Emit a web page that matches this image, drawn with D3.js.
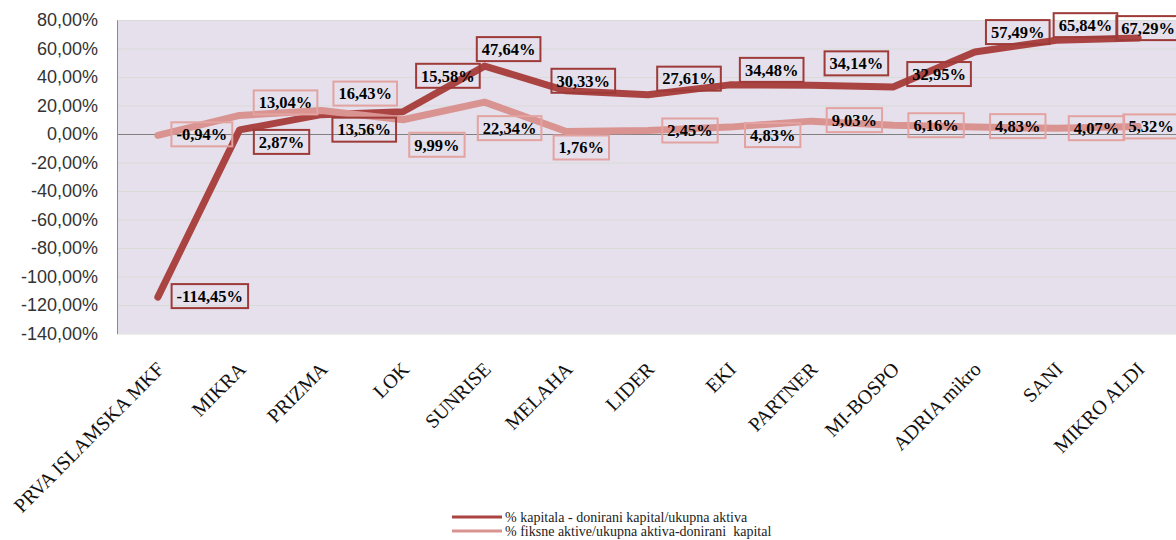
<!DOCTYPE html>
<html>
<head>
<meta charset="utf-8">
<script src="https://cdn.jsdelivr.net/npm/d3@7"></script>
<style>
  html, body { margin: 0; padding: 0; background: #ffffff; }
  svg { display: block; }
</style>
</head>
<body>
<div id="app"></div>
<script>
// categories (MKF names) and the two series, in percent
const categories = ['PRVA ISLAMSKA MKF', 'MIKRA', 'PRIZMA', 'LOK', 'SUNRISE', 'MELAHA',
    'LIDER', 'EKI', 'PARTNER', 'MI-BOSPO', 'ADRIA mikro', 'SANI', 'MIKRO ALDI'];

const capitalShare = [-114.45, 2.87, 13.56, 15.58, 47.64, 30.33, 27.61, 34.48, 34.14, 32.95, 57.49, 65.84, 67.29];
const fixedAssetsShare = [-0.94, 13.04, 16.43, 9.99, 22.34, 1.76, 2.45, 4.83, 9.03, 6.16, 4.83, 4.07, 5.32];

const yTickValues = [80, 60, 40, 20, 0, -20, -40, -60, -80, -100, -120, -140];

const seriesNames = ['% kapitala - donirani kapital/ukupna aktiva', '% fiksne aktive/ukupna aktiva-donirani  kapital'];

// where the data labels were dragged to (box centre relative to the point, px)
const capitalLabelShift = [[52, -1], [42, 12], [43, 15], [45, -36], [24, -17], [17, -10], [41, -16],
    [42, -15], [45, -22], [46, -13], [43, -20], [29, -15], [10, -10]];
const fixedLabelShift = [[44, -1], [46, -13], [44, -17], [34, 25], [25, 26], [15, 16], [42, 0],
    [43, 8], [43, -1], [43, 0], [43, -1], [40, 0], [13, 0]];

const W = 1176, H = 540;
const plot = { left: 117, right: 1179, top: 20, bottom: 333.5 };

const colors = {
    dark: '#aa4442', darkBox: '#9e3b39',
    light: '#d99391', lightBox: '#e3a3a1',
    bg: '#e5e0ec', grid: '#d9dbd6', zero: '#808080'
};

const svg = d3.select('#app')
    .append('svg')
    .attr('width', W)
    .attr('height', H);

const x = d3.scalePoint()
    .domain(categories)
    .range([plot.left, plot.right])
    .padding(0.5);

const y = d3.scaleLinear()
    .domain([-140, 80])
    .range([plot.bottom, plot.top]);

const fmt = v => v.toFixed(2).replace('.', ',') + '%';

// plot background
svg.append('rect')
    .attr('x', plot.left)
    .attr('y', plot.top)
    .attr('width', plot.right - plot.left)
    .attr('height', plot.bottom - plot.top)
    .attr('fill', colors.bg);

// gridlines
svg.append('g')
    .attr('transform', `translate(${plot.left},0)`)
    .call(d3.axisLeft(y).tickValues(yTickValues).tickSize(-(plot.right - plot.left)).tickFormat(''))
    .call(g => g.select('.domain').remove())
    .call(g => g.selectAll('line')
        .attr('stroke', d => d === 0 ? colors.zero : colors.grid)
        .attr('stroke-width', 1));

// y axis
svg.append('g')
    .attr('transform', `translate(${plot.left},0)`)
    .call(d3.axisLeft(y).tickValues(yTickValues).tickSize(0).tickPadding(19).tickFormat(fmt))
    .call(g => g.select('.domain').attr('stroke', '#8a8a8a'))
    .call(g => g.selectAll('text')
        .attr('fill', '#333')
        .style('font-family', '"Liberation Sans", Arial, sans-serif')
        .style('font-size', '18px'));

// x axis labels, rotated
svg.append('g')
    .attr('transform', `translate(0,${plot.bottom})`)
    .call(d3.axisBottom(x).tickSize(0))
    .call(g => g.select('.domain').remove())
    .call(g => g.selectAll('text')
        .attr('x', 0)
        .attr('y', 0)
        .attr('dy', 0)
        .attr('transform', 'translate(7,37) rotate(-45)')
        .attr('text-anchor', 'end')
        .attr('fill', '#111')
        .style('font-family', '"Liberation Serif", "Times New Roman", serif')
        .style('font-size', '20px'));

const line = d3.line()
    .x((d, i) => x(categories[i]))
    .y(d => y(d));

const series = [
    { values: capitalShare, color: colors.dark, box: colors.darkBox, shift: capitalLabelShift },
    { values: fixedAssetsShare, color: colors.light, box: colors.lightBox, shift: fixedLabelShift }
];

svg.selectAll('path.series')
    .data(series)
    .join('path')
    .attr('class', 'series')
    .attr('d', d => line(d.values))
    .attr('fill', 'none')
    .attr('stroke', d => d.color)
    .attr('stroke-width', 7)
    .attr('stroke-linejoin', 'round')
    .attr('stroke-linecap', 'round');

// data labels with boxes
series.forEach(s => {
    const g = svg.append('g');
    const lbl = g.selectAll('g')
        .data(s.values)
        .join('g')
        .attr('transform', (d, i) => `translate(${x(categories[i]) + s.shift[i][0]},${y(d) + s.shift[i][1]})`);

    lbl.append('text')
        .attr('text-anchor', 'middle')
        .attr('dy', '0.35em')
        .attr('fill', '#000')
        .style('font-family', '"Liberation Serif", "Times New Roman", serif')
        .style('font-weight', 'bold')
        .style('font-size', '16.5px')
        .text(fmt);

    lbl.each(function () {
        const t = d3.select(this).select('text').node().getBBox();
        d3.select(this).insert('rect', 'text')
            .attr('x', t.x - 5)
            .attr('y', -12)
            .attr('width', t.width + 10)
            .attr('height', 24)
            .attr('fill', 'none')
            .attr('stroke', s.box)
            .attr('stroke-width', 2);
    });
});

// legend
const legend = svg.append('g')
    .attr('transform', 'translate(452,517)');

const items = legend.selectAll('g')
    .data(series)
    .join('g')
    .attr('transform', (d, i) => `translate(0,${i * 14})`);

items.append('line')
    .attr('x1', 0)
    .attr('x2', 50)
    .attr('stroke', d => d.color)
    .attr('stroke-width', 3);

items.append('text')
    .attr('x', 53)
    .attr('dy', '0.35em')
    .attr('fill', '#222')
    .attr('xml:space', 'preserve')
    .style('white-space', 'pre')
    .style('font-family', '"Liberation Serif", "Times New Roman", serif')
    .style('font-size', '14px')
    .text((d, i) => seriesNames[i]);
</script>
</body>
</html>
